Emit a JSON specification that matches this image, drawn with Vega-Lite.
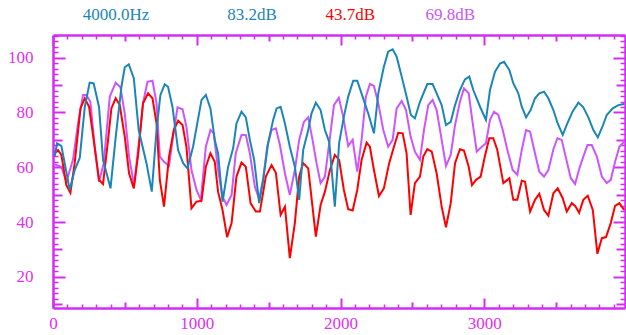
{
"$schema":"https://vega.github.io/schema/vega-lite/v6.json",
"width":572,"height":273,
"autosize":{"type":"none"},
"padding":{"left":53,"top":35,"right":1,"bottom":27},
"background":"white",
"view":{"stroke":null},
"datasets":{
"labels":[
{"t":"4000.0Hz","tx":438,"ty":115.5,"c":"#1a86b8"},
{"t":"83.2dB","tx":1385,"ty":115.5,"c":"#1a86b8"},
{"t":"43.7dB","tx":2067,"ty":115.5,"c":"#ff0000"},
{"t":"69.8dB","tx":2763,"ty":115.5,"c":"#cc55ff"}
],
"lines":[
{"s":"v","f":12,"db":61},{"s":"v","f":58,"db":60.2},{"s":"v","f":93,"db":54.7},{"s":"v","f":139,"db":62.7},{"s":"v","f":174,"db":76},{"s":"v","f":209,"db":86.4},{"s":"v","f":232,"db":86.4},{"s":"v","f":260,"db":83.9},{"s":"v","f":290,"db":67.5},{"s":"v","f":320,"db":54.7},{"s":"v","f":353,"db":61.5},{"s":"v","f":395,"db":85.8},{"s":"v","f":436,"db":90.9},{"s":"v","f":469,"db":89.2},{"s":"v","f":499,"db":79.7},{"s":"v","f":529,"db":63.9},{"s":"v","f":564,"db":53.5},{"s":"v","f":599,"db":70},{"s":"v","f":626,"db":83.4},{"s":"v","f":657,"db":91.2},{"s":"v","f":692,"db":91.6},{"s":"v","f":720,"db":83.4},{"s":"v","f":743,"db":63.9},{"s":"v","f":772,"db":62},{"s":"v","f":807,"db":60.5},{"s":"v","f":835,"db":71.2},{"s":"v","f":866,"db":81.9},{"s":"v","f":901,"db":81.2},{"s":"v","f":928,"db":74.8},{"s":"v","f":963,"db":59},{"s":"v","f":998,"db":51.7},{"s":"v","f":1028,"db":48.1},{"s":"v","f":1063,"db":67.5},{"s":"v","f":1095,"db":73.6},{"s":"v","f":1118,"db":72.4},{"s":"v","f":1148,"db":59},{"s":"v","f":1179,"db":49.3},{"s":"v","f":1207,"db":46.2},{"s":"v","f":1242,"db":49.9},{"s":"v","f":1271,"db":65.1},{"s":"v","f":1311,"db":71.8},{"s":"v","f":1341,"db":71.8},{"s":"v","f":1369,"db":65.1},{"s":"v","f":1404,"db":52.9},{"s":"v","f":1434,"db":48.3},{"s":"v","f":1462,"db":56},{"s":"v","f":1490,"db":67.5},{"s":"v","f":1520,"db":73.6},{"s":"v","f":1550,"db":74.2},{"s":"v","f":1578,"db":68.1},{"s":"v","f":1613,"db":57.8},{"s":"v","f":1647,"db":49.9},{"s":"v","f":1682,"db":59},{"s":"v","f":1712,"db":70},{"s":"v","f":1745,"db":76.6},{"s":"v","f":1775,"db":78.2},{"s":"v","f":1805,"db":70},{"s":"v","f":1833,"db":61.5},{"s":"v","f":1861,"db":54.2},{"s":"v","f":1891,"db":56.6},{"s":"v","f":1921,"db":68.8},{"s":"v","f":1954,"db":82.7},{"s":"v","f":1988,"db":85.4},{"s":"v","f":2018,"db":78.5},{"s":"v","f":2053,"db":67.8},{"s":"v","f":2084,"db":70},{"s":"v","f":2116,"db":58.4},{"s":"v","f":2146,"db":70},{"s":"v","f":2176,"db":85.8},{"s":"v","f":2204,"db":90.4},{"s":"v","f":2232,"db":89.7},{"s":"v","f":2262,"db":83.4},{"s":"v","f":2297,"db":73.6},{"s":"v","f":2331,"db":67.5},{"s":"v","f":2362,"db":70},{"s":"v","f":2390,"db":81.5},{"s":"v","f":2425,"db":84.2},{"s":"v","f":2455,"db":80.9},{"s":"v","f":2487,"db":71.2},{"s":"v","f":2517,"db":65.7},{"s":"v","f":2552,"db":62.7},{"s":"v","f":2580,"db":73.6},{"s":"v","f":2610,"db":82.7},{"s":"v","f":2640,"db":84.6},{"s":"v","f":2668,"db":80.9},{"s":"v","f":2703,"db":70},{"s":"v","f":2733,"db":60.5},{"s":"v","f":2766,"db":64.5},{"s":"v","f":2796,"db":75.4},{"s":"v","f":2830,"db":83.9},{"s":"v","f":2858,"db":88.8},{"s":"v","f":2891,"db":87},{"s":"v","f":2919,"db":76},{"s":"v","f":2947,"db":65.7},{"s":"v","f":2982,"db":67.5},{"s":"v","f":3011,"db":68.8},{"s":"v","f":3039,"db":77.3},{"s":"v","f":3067,"db":80.3},{"s":"v","f":3097,"db":79.1},{"s":"v","f":3128,"db":73.6},{"s":"v","f":3160,"db":66.3},{"s":"v","f":3197,"db":59},{"s":"v","f":3229,"db":57.2},{"s":"v","f":3260,"db":66.3},{"s":"v","f":3290,"db":73.6},{"s":"v","f":3318,"db":73},{"s":"v","f":3352,"db":65.1},{"s":"v","f":3382,"db":58.4},{"s":"v","f":3415,"db":56.6},{"s":"v","f":3445,"db":59},{"s":"v","f":3480,"db":66.6},{"s":"v","f":3508,"db":70.6},{"s":"v","f":3538,"db":70},{"s":"v","f":3568,"db":63.3},{"s":"v","f":3601,"db":56},{"s":"v","f":3631,"db":53.9},{"s":"v","f":3661,"db":59.6},{"s":"v","f":3688,"db":63.9},{"s":"v","f":3717,"db":68.1},{"s":"v","f":3747,"db":68.1},{"s":"v","f":3782,"db":63.9},{"s":"v","f":3817,"db":56.6},{"s":"v","f":3851,"db":54.2},{"s":"v","f":3879,"db":55.4},{"s":"v","f":3909,"db":62},{"s":"v","f":3939,"db":67.5},{"s":"v","f":3972,"db":69.3},
{"s":"r","f":12,"db":65.1},{"s":"r","f":35,"db":66.3},{"s":"r","f":58,"db":64.5},{"s":"r","f":93,"db":53.5},{"s":"r","f":121,"db":50.7},{"s":"r","f":151,"db":61.5},{"s":"r","f":191,"db":81.5},{"s":"r","f":221,"db":85.2},{"s":"r","f":251,"db":82.1},{"s":"r","f":283,"db":70},{"s":"r","f":320,"db":55.4},{"s":"r","f":348,"db":53.9},{"s":"r","f":383,"db":70},{"s":"r","f":406,"db":81.5},{"s":"r","f":436,"db":85.2},{"s":"r","f":464,"db":82.7},{"s":"r","f":499,"db":71.2},{"s":"r","f":529,"db":57.8},{"s":"r","f":562,"db":52.3},{"s":"r","f":592,"db":64.5},{"s":"r","f":626,"db":83.4},{"s":"r","f":661,"db":87},{"s":"r","f":692,"db":85.2},{"s":"r","f":720,"db":76},{"s":"r","f":743,"db":55.4},{"s":"r","f":772,"db":45.6},{"s":"r","f":807,"db":63.9},{"s":"r","f":840,"db":73.6},{"s":"r","f":870,"db":77},{"s":"r","f":901,"db":75.4},{"s":"r","f":928,"db":67.5},{"s":"r","f":963,"db":45},{"s":"r","f":998,"db":47.4},{"s":"r","f":1033,"db":47.8},{"s":"r","f":1063,"db":60.2},{"s":"r","f":1095,"db":65.1},{"s":"r","f":1125,"db":62},{"s":"r","f":1148,"db":51.1},{"s":"r","f":1179,"db":44.4},{"s":"r","f":1211,"db":34.5},{"s":"r","f":1242,"db":39.6},{"s":"r","f":1276,"db":56.6},{"s":"r","f":1311,"db":61.7},{"s":"r","f":1341,"db":60.2},{"s":"r","f":1374,"db":46.9},{"s":"r","f":1411,"db":43.8},{"s":"r","f":1439,"db":43.8},{"s":"r","f":1480,"db":56.6},{"s":"r","f":1520,"db":60.8},{"s":"r","f":1550,"db":58},{"s":"r","f":1583,"db":42.6},{"s":"r","f":1613,"db":45.6},{"s":"r","f":1647,"db":26.8},{"s":"r","f":1682,"db":39.6},{"s":"r","f":1712,"db":56.6},{"s":"r","f":1740,"db":61.5},{"s":"r","f":1775,"db":59.6},{"s":"r","f":1828,"db":34.7},{"s":"r","f":1861,"db":46.2},{"s":"r","f":1891,"db":51.1},{"s":"r","f":1926,"db":59},{"s":"r","f":1960,"db":64.5},{"s":"r","f":1990,"db":62.7},{"s":"r","f":2023,"db":51.7},{"s":"r","f":2053,"db":44.7},{"s":"r","f":2084,"db":44.2},{"s":"r","f":2116,"db":51.7},{"s":"r","f":2146,"db":62.7},{"s":"r","f":2181,"db":69},{"s":"r","f":2204,"db":67.5},{"s":"r","f":2232,"db":59},{"s":"r","f":2267,"db":49.5},{"s":"r","f":2301,"db":52.3},{"s":"r","f":2338,"db":61.5},{"s":"r","f":2371,"db":67.5},{"s":"r","f":2401,"db":72.6},{"s":"r","f":2432,"db":72.4},{"s":"r","f":2459,"db":65.1},{"s":"r","f":2487,"db":42.6},{"s":"r","f":2517,"db":54.2},{"s":"r","f":2552,"db":56.6},{"s":"r","f":2575,"db":63.9},{"s":"r","f":2603,"db":66.6},{"s":"r","f":2634,"db":65.7},{"s":"r","f":2668,"db":57.8},{"s":"r","f":2703,"db":45.6},{"s":"r","f":2733,"db":38.1},{"s":"r","f":2766,"db":46.9},{"s":"r","f":2796,"db":61.5},{"s":"r","f":2830,"db":66.6},{"s":"r","f":2858,"db":66.1},{"s":"r","f":2891,"db":60.2},{"s":"r","f":2914,"db":53.5},{"s":"r","f":2942,"db":55.4},{"s":"r","f":2974,"db":56.6},{"s":"r","f":3004,"db":64.1},{"s":"r","f":3034,"db":70.6},{"s":"r","f":3062,"db":70.6},{"s":"r","f":3090,"db":66.3},{"s":"r","f":3109,"db":60.8},{"s":"r","f":3132,"db":54.2},{"s":"r","f":3160,"db":55.4},{"s":"r","f":3174,"db":56},{"s":"r","f":3201,"db":48.1},{"s":"r","f":3229,"db":48.1},{"s":"r","f":3260,"db":55.1},{"s":"r","f":3283,"db":54.7},{"s":"r","f":3318,"db":43.8},{"s":"r","f":3352,"db":48.1},{"s":"r","f":3382,"db":50.3},{"s":"r","f":3415,"db":44.4},{"s":"r","f":3445,"db":42.3},{"s":"r","f":3480,"db":50.5},{"s":"r","f":3510,"db":52.3},{"s":"r","f":3545,"db":48.7},{"s":"r","f":3573,"db":43.8},{"s":"r","f":3608,"db":46.9},{"s":"r","f":3631,"db":45.9},{"s":"r","f":3659,"db":43.4},{"s":"r","f":3688,"db":48.1},{"s":"r","f":3719,"db":49.6},{"s":"r","f":3754,"db":44.4},{"s":"r","f":3786,"db":28.4},{"s":"r","f":3817,"db":34.1},{"s":"r","f":3846,"db":34.5},{"s":"r","f":3879,"db":39.6},{"s":"r","f":3909,"db":45.9},{"s":"r","f":3939,"db":46.9},{"s":"r","f":3972,"db":44.4},
{"s":"b","f":12,"db":64},{"s":"b","f":28,"db":68.7},{"s":"b","f":58,"db":67.8},{"s":"b","f":81,"db":61.6},{"s":"b","f":116,"db":51.7},{"s":"b","f":151,"db":59},{"s":"b","f":186,"db":63.4},{"s":"b","f":221,"db":82},{"s":"b","f":255,"db":90.9},{"s":"b","f":283,"db":90.6},{"s":"b","f":320,"db":82},{"s":"b","f":348,"db":62.7},{"s":"b","f":400,"db":52.3},{"s":"b","f":436,"db":71},{"s":"b","f":476,"db":89.4},{"s":"b","f":499,"db":96.5},{"s":"b","f":527,"db":97.6},{"s":"b","f":562,"db":92.5},{"s":"b","f":596,"db":73.6},{"s":"b","f":650,"db":61.5},{"s":"b","f":687,"db":51.1},{"s":"b","f":720,"db":73.6},{"s":"b","f":747,"db":86.4},{"s":"b","f":777,"db":90.3},{"s":"b","f":800,"db":89.4},{"s":"b","f":831,"db":82},{"s":"b","f":870,"db":66.3},{"s":"b","f":905,"db":61.5},{"s":"b","f":935,"db":59.6},{"s":"b","f":974,"db":67.5},{"s":"b","f":1033,"db":84.6},{"s":"b","f":1063,"db":86.4},{"s":"b","f":1095,"db":81.5},{"s":"b","f":1125,"db":70},{"s":"b","f":1148,"db":65.1},{"s":"b","f":1179,"db":47.4},{"s":"b","f":1218,"db":60.2},{"s":"b","f":1253,"db":67},{"s":"b","f":1276,"db":76},{"s":"b","f":1311,"db":80.3},{"s":"b","f":1341,"db":78.2},{"s":"b","f":1369,"db":70},{"s":"b","f":1399,"db":62.7},{"s":"b","f":1434,"db":46.9},{"s":"b","f":1462,"db":55.4},{"s":"b","f":1496,"db":68.8},{"s":"b","f":1531,"db":77.3},{"s":"b","f":1555,"db":81.5},{"s":"b","f":1583,"db":82.1},{"s":"b","f":1613,"db":76},{"s":"b","f":1647,"db":67.5},{"s":"b","f":1682,"db":60.2},{"s":"b","f":1712,"db":48.1},{"s":"b","f":1740,"db":66.3},{"s":"b","f":1775,"db":73.6},{"s":"b","f":1798,"db":79.7},{"s":"b","f":1828,"db":83.6},{"s":"b","f":1861,"db":80.9},{"s":"b","f":1891,"db":73.6},{"s":"b","f":1921,"db":69.3},{"s":"b","f":1960,"db":45.6},{"s":"b","f":1990,"db":68.8},{"s":"b","f":2023,"db":78.5},{"s":"b","f":2053,"db":85.8},{"s":"b","f":2088,"db":91.6},{"s":"b","f":2116,"db":91.6},{"s":"b","f":2153,"db":85.8},{"s":"b","f":2192,"db":79.7},{"s":"b","f":2232,"db":72.4},{"s":"b","f":2262,"db":87},{"s":"b","f":2301,"db":96.7},{"s":"b","f":2331,"db":102.2},{"s":"b","f":2362,"db":103.1},{"s":"b","f":2390,"db":100.4},{"s":"b","f":2425,"db":93.1},{"s":"b","f":2459,"db":85.8},{"s":"b","f":2489,"db":79.1},{"s":"b","f":2517,"db":77.9},{"s":"b","f":2552,"db":83.9},{"s":"b","f":2603,"db":90.4},{"s":"b","f":2640,"db":90.4},{"s":"b","f":2663,"db":87.6},{"s":"b","f":2703,"db":82.7},{"s":"b","f":2733,"db":75.4},{"s":"b","f":2766,"db":76.6},{"s":"b","f":2796,"db":82.7},{"s":"b","f":2830,"db":88.2},{"s":"b","f":2865,"db":92.1},{"s":"b","f":2895,"db":93.1},{"s":"b","f":2923,"db":88.2},{"s":"b","f":2970,"db":82.1},{"s":"b","f":3011,"db":77.3},{"s":"b","f":3039,"db":88.2},{"s":"b","f":3074,"db":94.9},{"s":"b","f":3109,"db":97.9},{"s":"b","f":3137,"db":98.5},{"s":"b","f":3174,"db":95.5},{"s":"b","f":3201,"db":90.7},{"s":"b","f":3236,"db":87},{"s":"b","f":3260,"db":82.1},{"s":"b","f":3290,"db":78.2},{"s":"b","f":3322,"db":80.9},{"s":"b","f":3352,"db":85.2},{"s":"b","f":3382,"db":87},{"s":"b","f":3415,"db":87.6},{"s":"b","f":3445,"db":85.2},{"s":"b","f":3480,"db":80.9},{"s":"b","f":3510,"db":76},{"s":"b","f":3545,"db":71.8},{"s":"b","f":3577,"db":76},{"s":"b","f":3615,"db":80.5},{"s":"b","f":3654,"db":83.6},{"s":"b","f":3688,"db":81.9},{"s":"b","f":3723,"db":78.2},{"s":"b","f":3758,"db":73.6},{"s":"b","f":3789,"db":70.9},{"s":"b","f":3821,"db":74.8},{"s":"b","f":3851,"db":79.1},{"s":"b","f":3893,"db":81.5},{"s":"b","f":3932,"db":82.7},{"s":"b","f":3972,"db":83.1}
]},
"data":{"name":"lines"},
"resolve":{"axis":{"x":"independent","y":"independent"}},
"layer":[
{"mark":{"type":"line","strokeWidth":2},
 "encoding":{
  "x":{"field":"f","type":"quantitative","scale":{"domain":[0,3978],"nice":false,"zero":false},"axis":{"orient":"bottom","values":[0,1000,2000,3000],"format":"d","ticks":false,"domain":false,"grid":false,"title":null,"labelFont":"Times New Roman, Liberation Serif, serif","labelFontSize":17,"labelColor":"#e030f0","labelPadding":7,"labelFlush":false,"labelOverlap":false}},
  "y":{"field":"db","type":"quantitative","scale":{"domain":[8.6,108.3],"nice":false,"zero":false},"axis":{"orient":"left","values":[20,40,60,80,100],"format":"d","ticks":false,"domain":false,"grid":false,"title":null,"labelFont":"Times New Roman, Liberation Serif, serif","labelFontSize":17,"labelColor":"#e030f0","labelPadding":20,"labelFlush":false,"labelOverlap":false}},
  "color":{"field":"s","type":"nominal","scale":{"domain":["v","r","b"],"range":["#cc55ff","#ff0000","#1a86b8"]},"legend":null}
 }},
{"mark":{"type":"point","opacity":0},
 "encoding":{
  "x":{"field":"f","type":"quantitative","scale":{"domain":[0,3978],"nice":false,"zero":false},"axis":{"orient":"bottom","values":[0,1000,2000,3000],"labels":false,"tickSize":-10,"tickWidth":2,"tickColor":"#d42cf5","domain":true,"domainColor":"#d42cf5","domainWidth":2.5,"grid":false,"title":null}},
  "y":{"field":"db","type":"quantitative","scale":{"domain":[8.6,108.3],"nice":false,"zero":false},"axis":{"orient":"left","values":[20,40,60,80,100],"labels":false,"tickSize":-12,"tickWidth":2,"tickColor":"#d42cf5","domain":true,"domainColor":"#d42cf5","domainWidth":2.5,"grid":false,"title":null}}
 }},
{"mark":{"type":"point","opacity":0},
 "encoding":{
  "x":{"field":"f","type":"quantitative","scale":{"domain":[0,3978],"nice":false,"zero":false},"axis":{"orient":"bottom","values":[500,1500,2500,3500],"labels":false,"tickSize":-6,"tickWidth":2,"tickColor":"#d42cf5","domain":false,"grid":false,"title":null}},
  "y":{"field":"db","type":"quantitative","scale":{"domain":[8.6,108.3],"nice":false,"zero":false},"axis":{"orient":"left","values":[10,30,50,70,90],"labels":false,"tickSize":-9,"tickWidth":2,"tickColor":"#d42cf5","domain":false,"grid":false,"title":null}}
 }},
{"mark":{"type":"point","opacity":0},
 "encoding":{
  "x":{"field":"f","type":"quantitative","scale":{"domain":[0,3978],"nice":false,"zero":false},"axis":{"orient":"bottom","values":[100,200,300,400,600,700,800,900,1100,1200,1300,1400,1600,1700,1800,1900,2100,2200,2300,2400,2600,2700,2800,2900,3100,3200,3300,3400,3600,3700,3800,3900],"labels":false,"tickSize":-4,"tickWidth":1.5,"tickColor":"#d42cf5","domain":false,"grid":false,"title":null}},
  "y":{"field":"db","type":"quantitative","scale":{"domain":[8.6,108.3],"nice":false,"zero":false},"axis":{"orient":"left","values":[12,14,16,18,22,24,26,28,32,34,36,38,42,44,46,48,52,54,56,58,62,64,66,68,72,74,76,78,82,84,86,88,92,94,96,98,102,104,106,108],"labels":false,"tickSize":-5,"tickWidth":1.5,"tickColor":"#d42cf5","domain":false,"grid":false,"title":null}}
 }},
{"mark":{"type":"point","opacity":0},
 "encoding":{
  "x":{"field":"f","type":"quantitative","scale":{"domain":[0,3978],"nice":false,"zero":false},"axis":{"orient":"top","values":[0,1000,2000,3000],"labels":false,"tickSize":-10,"tickWidth":2,"tickColor":"#d42cf5","domain":true,"domainColor":"#d42cf5","domainWidth":2.5,"grid":false,"title":null}},
  "y":{"field":"db","type":"quantitative","scale":{"domain":[8.6,108.3],"nice":false,"zero":false},"axis":{"orient":"right","values":[20,40,60,80,100],"labels":false,"tickSize":-12,"tickWidth":2,"tickColor":"#d42cf5","domain":true,"domainColor":"#d42cf5","domainWidth":2.5,"grid":false,"title":null}}
 }},
{"mark":{"type":"point","opacity":0},
 "encoding":{
  "x":{"field":"f","type":"quantitative","scale":{"domain":[0,3978],"nice":false,"zero":false},"axis":{"orient":"top","values":[500,1500,2500,3500],"labels":false,"tickSize":-6,"tickWidth":2,"tickColor":"#d42cf5","domain":false,"grid":false,"title":null}},
  "y":{"field":"db","type":"quantitative","scale":{"domain":[8.6,108.3],"nice":false,"zero":false},"axis":{"orient":"right","values":[10,30,50,70,90],"labels":false,"tickSize":-9,"tickWidth":2,"tickColor":"#d42cf5","domain":false,"grid":false,"title":null}}
 }},
{"mark":{"type":"point","opacity":0},
 "encoding":{
  "x":{"field":"f","type":"quantitative","scale":{"domain":[0,3978],"nice":false,"zero":false},"axis":{"orient":"top","values":[100,200,300,400,600,700,800,900,1100,1200,1300,1400,1600,1700,1800,1900,2100,2200,2300,2400,2600,2700,2800,2900,3100,3200,3300,3400,3600,3700,3800,3900],"labels":false,"tickSize":-4,"tickWidth":1.5,"tickColor":"#d42cf5","domain":false,"grid":false,"title":null}},
  "y":{"field":"db","type":"quantitative","scale":{"domain":[8.6,108.3],"nice":false,"zero":false},"axis":{"orient":"right","values":[12,14,16,18,22,24,26,28,32,34,36,38,42,44,46,48,52,54,56,58,62,64,66,68,72,74,76,78,82,84,86,88,92,94,96,98,102,104,106,108],"labels":false,"tickSize":-5,"tickWidth":1.5,"tickColor":"#d42cf5","domain":false,"grid":false,"title":null}}
 }},
{"data":{"name":"labels"},
 "mark":{"type":"text","font":"Times New Roman, Liberation Serif, serif","fontSize":17,"baseline":"middle","align":"center"},
 "encoding":{
  "x":{"field":"tx","type":"quantitative","scale":{"domain":[0,3978],"nice":false,"zero":false},"axis":null},
  "y":{"field":"ty","type":"quantitative","scale":{"domain":[8.6,108.3],"nice":false,"zero":false},"axis":null},
  "text":{"field":"t","type":"nominal"},
  "color":{"field":"c","type":"nominal","scale":null}
 }}
]
}
